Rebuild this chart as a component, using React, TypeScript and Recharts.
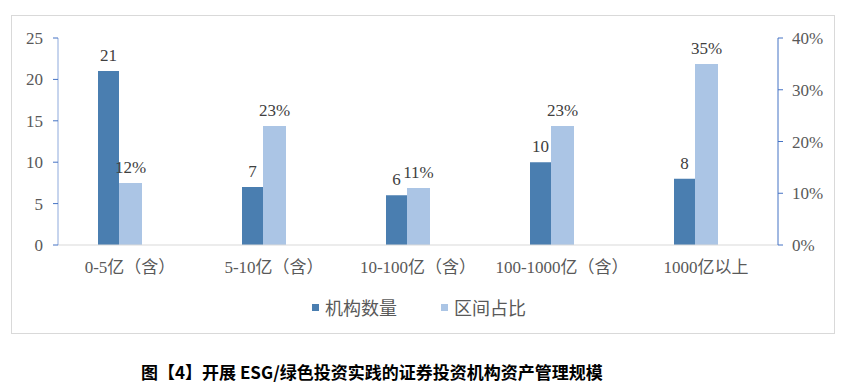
import { BarChart, Bar, XAxis, YAxis, LabelList, Legend } from "recharts";

const categories = [
  "0-5亿（含）",
  "5-10亿（含）",
  "10-100亿（含）",
  "100-1000亿（含）",
  "1000亿以上",
];
const counts = [21, 7, 6, 10, 8];
const shares = [12, 23, 11, 23, 35];
// empty slot so the share bar sits on the category centre
const spacer = [0, 0, 0, 0, 0];
const countTicks = [0, 5, 10, 15, 20, 25];
const shareTicks = [0, 10, 20, 30, 40];
const seriesNames = ["机构数量", "区间占比"];
const title = "图【4】开展 ESG/绿色投资实践的证券投资机构资产管理规模";

const colors = ["#4a7eb0", "#abc5e5"];

const data = categories.map((name, i) => ({
  name,
  count: counts[i],
  share: shares[i],
  spacer: spacer[i],
}));

const serif = "'Liberation Serif', 'Noto Sans CJK SC', serif";
const sans = "'Noto Sans CJK SC', sans-serif";

const renderLegend = () => (
  <div style={styles.legend}>
    {seriesNames.map((n, i) => (
      <span key={n} style={styles.legendItem}>
        <span
          style={{
            width: 7,
            height: 7,
            background: colors[i],
            marginRight: 6,
            display: "inline-block",
          }}
        />
        {n}
      </span>
    ))}
  </div>
);

export default function App() {
  return (
    <div style={styles.page}>
      <div style={styles.frame} />
      <div style={{ position: "absolute", left: 0, top: 0 }}>
        <BarChart
          width={852}
          height={392}
          data={data}
          margin={{ top: 38, right: 14, bottom: 70, left: 0 }}
          barGap={0}
        >
          <XAxis
            dataKey="name"
            axisLine={{ stroke: "#d9d9d9" }}
            tickLine={false}
            tickMargin={10}
            height={47}
            interval={0}
            tick={{ fill: "#595959", fontSize: 17, fontFamily: serif }}
          />
          <YAxis
            yAxisId="left"
            domain={[0, 25]}
            ticks={countTicks}
            width={58}
            axisLine={{ stroke: "#8faadc" }}
            tickLine={{ stroke: "#4472c4" }}
            tickSize={5}
            tickMargin={10}
            tick={{ fill: "#595959", fontSize: 17, fontFamily: serif }}
          />
          <YAxis
            yAxisId="right"
            orientation="right"
            domain={[0, 40]}
            ticks={shareTicks}
            tickFormatter={(v) => v + "%"}
            width={60}
            axisLine={{ stroke: "#4472c4" }}
            tickLine={{ stroke: "#4472c4" }}
            tickSize={5}
            tickMargin={9}
            tick={{ fill: "#595959", fontSize: 17, fontFamily: serif }}
          />
          <Legend
            verticalAlign="bottom"
            height={30}
            content={renderLegend}
          />
          <Bar
            yAxisId="left"
            dataKey="count"
            name={seriesNames[0]}
            fill={colors[0]}
            barSize={21}
            isAnimationActive={false}
          >
            <LabelList
              dataKey="count"
              position="top"
              offset={10}
              fill="#404040"
              fontSize={17}
              fontFamily={serif}
            />
          </Bar>
          <Bar
            yAxisId="right"
            dataKey="share"
            name={seriesNames[1]}
            fill={colors[1]}
            barSize={23}
            isAnimationActive={false}
          >
            <LabelList
              dataKey="share"
              position="top"
              offset={10}
              fill="#404040"
              fontSize={17}
              fontFamily={serif}
              formatter={(v: any) => v + "%"}
            />
          </Bar>
          <Bar
            yAxisId="left"
            dataKey="spacer"
            fill="transparent"
            barSize={21}
            legendType="none"
            isAnimationActive={false}
          />
        </BarChart>
      </div>
      <div style={styles.title}>{title}</div>
    </div>
  );
}

const styles: any = {
  page: {
    position: "absolute",
    left: 0,
    top: 0,
    width: 852,
    height: 392,
    background: "white",
  },
  frame: {
    position: "absolute",
    left: 11,
    top: 15,
    width: 824,
    height: 319,
    border: "1px solid #d9d9d9",
    boxSizing: "border-box",
  },
  legend: {
    display: "flex",
    justifyContent: "center",
    alignItems: "center",
    gap: 44,
    fontFamily: sans,
    fontSize: 18,
    color: "#595959",
    height: 30,
  },
  legendItem: {
    display: "flex",
    alignItems: "center",
  },
  title: {
    position: "absolute",
    left: 141,
    top: 360,
    lineHeight: "24px",
    fontFamily: sans,
    fontWeight: "bold",
    fontSize: 17,
    color: "#000",
    whiteSpace: "nowrap",
  },
};
